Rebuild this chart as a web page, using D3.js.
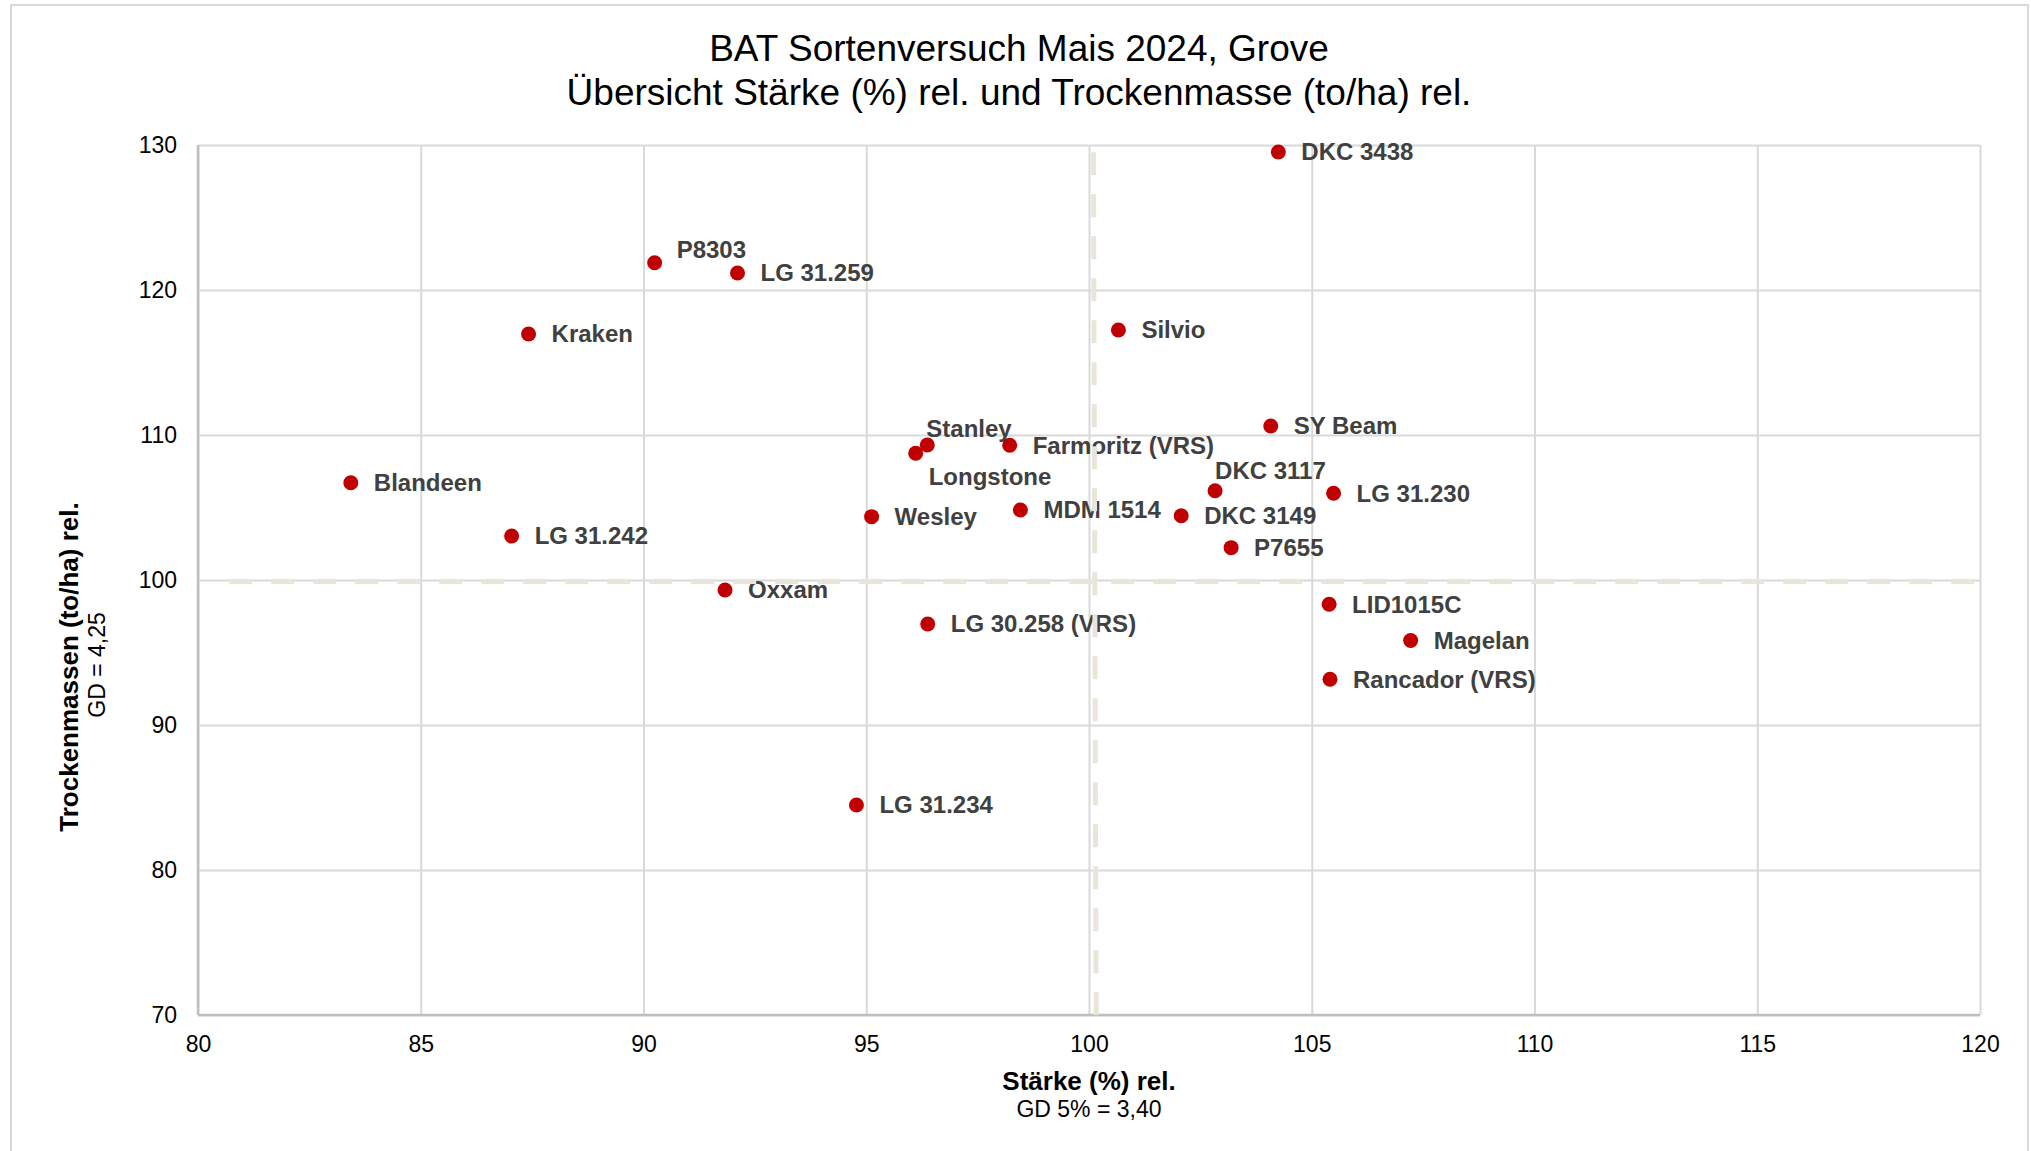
<!DOCTYPE html>
<html lang="de">

<head>
	<meta charset="utf-8">
	<title>BAT Sortenversuch Mais 2024</title>
	<style>
		body {
			margin: 0;
			background: #fff;
			font-family: "Liberation Sans", Arial, sans-serif;
		}

		.grid line {
			stroke: #d9d9d9;
			stroke-width: 2px;
		}

		.tick text {
			font-size: 23px;
			fill: #000;
		}

		.sorte {
			font-size: 24px;
			font-weight: bold;
			fill: #404040;
		}
	</style>
</head>

<body>
	<svg></svg>

	<script src="https://cdn.jsdelivr.net/npm/d3@7"></script>
	<script>
		// Sorten, Stärke rel. (x) und Trockenmasse rel. (y)
		var sorten = ["DKC 3438", "P8303", "LG 31.259", "Kraken", "Silvio", "SY Beam", "Stanley",
			"Farmoritz (VRS)", "Longstone", "Blandeen", "DKC 3117", "LG 31.230", "MDM 1514", "Wesley",
			"DKC 3149", "LG 31.242", "P7655", "Oxxam", "LID1015C", "LG 30.258 (VRS)", "Magelan",
			"Rancador (VRS)", "LG 31.234"];
		var staerke = [104.25, 90.25, 92.11, 87.42, 100.66, 104.08, 96.37,
			98.22, 96.11, 83.43, 102.83, 105.49, 98.46, 95.12,
			102.07, 87.04, 103.19, 91.83, 105.39, 96.38, 107.22,
			105.41, 94.78];
		var trockenmasse = [129.52, 121.88, 121.17, 116.97, 117.24, 110.62, 109.31,
			109.29, 108.74, 106.71, 106.16, 105.98, 104.83, 104.37,
			104.43, 103.03, 102.23, 99.31, 98.33, 96.97, 95.83,
			93.16, 84.48];

		var xTicks = [80, 85, 90, 95, 100, 105, 110, 115, 120];
		var yTicks = [70, 80, 90, 100, 110, 120, 130];

		// GD Linien (Mittelwert 100)
		var gdStaerke = [[100.1, 129.5], [100.16, 70]];
		var gdTrocken = [[80.7, 99.9], [120, 99.9]];

		var titel = ["BAT Sortenversuch Mais 2024, Grove",
			"Übersicht Stärke (%) rel. und Trockenmasse (to/ha) rel."];

		(function() {

			var width = 2031,
				height = 1151;

			var margin = { left: 198, top: 145, right: 2031 - 1980, bottom: 1151 - 1015 };
			var w = width - margin.left - margin.right,
				h = height - margin.top - margin.bottom;

			var svg = d3.select("svg")
				.attr("width", width)
				.attr("height", height);

			// äußerer Rahmen
			svg.append("rect")
				.attr("x", 11)
				.attr("y", 5)
				.attr("width", 2017)
				.attr("height", 1170)
				.attr("fill", "none")
				.attr("stroke", "#d9d9d9")
				.attr("stroke-width", 2);

			svg.selectAll("text.titel")
				.data(titel)
				.enter().append("text")
				.attr("class", "titel")
				.attr("x", 1019)
				.attr("y", function(d, i) { return 61 + i * 43.5; })
				.attr("text-anchor", "middle")
				.style("font-size", "37px")
				.style("fill", "#000")
				.text(function(d) { return d; });

			var g = svg.append("g")
				.attr("transform", "translate(" + margin.left + "," + margin.top + ")");

			var x = d3.scaleLinear().domain([80, 120]).range([0, w]);
			var y = d3.scaleLinear().domain([70, 130]).range([h, 0]);

			// Gitter + Achsenbeschriftung
			var xAxis = g.append("g")
				.attr("class", "grid")
				.attr("transform", "translate(0," + h + ")")
				.call(d3.axisBottom(x).tickValues(xTicks).tickSize(-h).tickPadding(21));

			var yAxis = g.append("g")
				.attr("class", "grid")
				.call(d3.axisLeft(y).tickValues(yTicks).tickSize(-w).tickPadding(21));

			xAxis.select(".domain").remove();
			yAxis.select(".domain").remove();

			// Achsenlinien
			g.append("line")
				.attr("x1", 0).attr("x2", 0)
				.attr("y1", 0).attr("y2", h)
				.attr("stroke", "#bfbfbf")
				.attr("stroke-width", 2.5);
			g.append("line")
				.attr("x1", 0).attr("x2", w)
				.attr("y1", h).attr("y2", h)
				.attr("stroke", "#bfbfbf")
				.attr("stroke-width", 2.5);

			var punkte = sorten.map(function(s, i) {
				return { name: s, x: staerke[i], y: trockenmasse[i] };
			});

			// Etiketten, die nicht rechts neben dem Punkt stehen
			var versatz = {
				"P8303": [22, -13],
				"Stanley": [-1, -16],
				"Longstone": [13, 23],
				"DKC 3117": [0, -20]
			};

			g.append("g")
				.selectAll("circle")
				.data(punkte)
				.enter().append("circle")
				.attr("cx", function(d) { return x(d.x); })
				.attr("cy", function(d) { return y(d.y); })
				.attr("r", 7.5)
				.attr("fill", "#c00000");

			g.append("g")
				.selectAll("text")
				.data(punkte)
				.enter().append("text")
				.attr("class", "sorte")
				.attr("x", function(d) {
					var v = versatz[d.name] || [23, 0];
					return x(d.x) + v[0];
				})
				.attr("y", function(d) {
					var v = versatz[d.name] || [23, 0];
					return y(d.y) + v[1];
				})
				.attr("dy", "0.35em")
				.text(function(d) { return d.name; });

			// gestrichelte GD-Linien über allem
			var linie = d3.line()
				.x(function(d) { return x(d[0]); })
				.y(function(d) { return y(d[1]); });

			g.selectAll("path.gd")
				.data([gdStaerke, gdTrocken])
				.enter().append("path")
				.attr("class", "gd")
				.attr("d", linie)
				.attr("fill", "none")
				.attr("stroke", "#e9e6d9")
				.attr("stroke-width", 5)
				.attr("stroke-dasharray", "23,19");

			// Achsentitel
			svg.append("text")
				.attr("x", margin.left + w / 2)
				.attr("y", 1090)
				.attr("text-anchor", "middle")
				.style("font-size", "26px")
				.style("font-weight", "bold")
				.text("Stärke (%) rel.");
			svg.append("text")
				.attr("x", margin.left + w / 2)
				.attr("y", 1117)
				.attr("text-anchor", "middle")
				.style("font-size", "23px")
				.text("GD 5% = 3,40");

			svg.append("text")
				.attr("transform", "translate(78,667) rotate(-90)")
				.attr("text-anchor", "middle")
				.style("font-size", "26px")
				.style("font-weight", "bold")
				.text("Trockenmassen (to/ha) rel.");
			svg.append("text")
				.attr("transform", "translate(105,665) rotate(-90)")
				.attr("text-anchor", "middle")
				.style("font-size", "23px")
				.text("GD = 4,25");

		})();
	</script>
</body>

</html>
